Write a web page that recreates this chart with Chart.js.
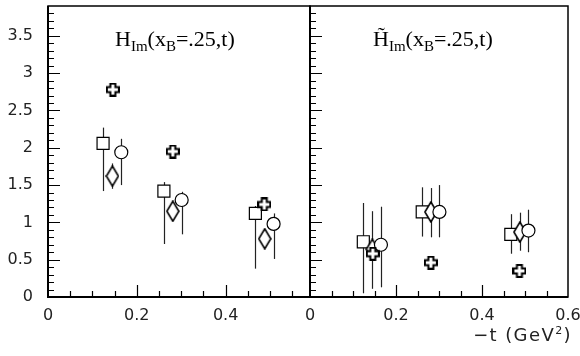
<!DOCTYPE html>
<html>
<head>
<meta charset="utf-8">
<script src="https://cdn.jsdelivr.net/npm/chart.js@4/dist/chart.umd.min.js"></script>
<style>
  body { margin: 0; background: #fff; }
  #wrap { position: relative; width: 580px; height: 356px; }
  #wrap canvas { position: absolute; left: 0; top: 0; }
  .ttl { position: absolute; font-family: "Liberation Serif", serif; font-size: 22px; line-height: 22px; white-space: nowrap; color: #000; }
  .ttl .sb { font-size: 15px; position: relative; top: 5px; }
  #xt { position: absolute; right: 8px; top: 324px; font-family: "DejaVu Sans", sans-serif; font-size: 18px; letter-spacing: 1.4px; white-space: nowrap; color: #222; }
  #xt sup { font-size: 11px; }
</style>
</head>
<body>
<div id="wrap">
  <canvas id="cH" width="580" height="356"></canvas>
  <canvas id="cHt" width="580" height="356"></canvas>
  <div class="ttl" style="left:115px; top:28px;">H<span class="sb">Im</span>(x<span class="sb">B</span>=.25,t)</div>
  <div class="ttl" style="left:373px; top:28px;">H&#x0303;<span class="sb">Im</span>(x<span class="sb">B</span>=.25,t)</div>
  <div id="xt">−t (GeV<sup>2</sup>)</div>
</div>
<script>
// -t positions of each marker type (GeV^2)
const tSquare = [0.124, 0.261, 0.467];
const tDiamond = [0.145, 0.281, 0.488];
const tCircle = [0.165, 0.301, 0.508];
const tCross = [0.146, 0.281, 0.487];

// left panel: H_Im
const hSquare = [2.06, 1.42, 1.12];
const hSquareHi = [2.27, 1.54, 1.22];
const hSquareLo = [1.42, 0.71, 0.38];
const hDiamond = [1.62, 1.15, 0.78];
const hDiamondHi = [1.79, 1.26, 0.90];
const hDiamondLo = [1.45, 1.03, 0.66];
const hCircle = [1.94, 1.30, 0.98];
const hCircleHi = [2.12, 1.41, 1.12];
const hCircleLo = [1.50, 0.84, 0.51];
const hCross = [2.78, 1.95, 1.24];

// right panel: H~_Im
const htSquare = [0.74, 1.14, 0.84];
const htSquareHi = [1.26, 1.47, 1.11];
const htSquareLo = [0.05, 0.81, 0.58];
const htDiamond = [0.64, 1.14, 0.87];
const htDiamondHi = [1.15, 1.46, 1.13];
const htDiamondLo = [0.11, 0.80, 0.62];
const htCircle = [0.70, 1.14, 0.89];
const htCircleHi = [1.21, 1.50, 1.17];
const htCircleLo = [0.13, 0.80, 0.60];
const htCross = [0.58, 0.46, 0.35];

const xTickLabels = ['0', '0.2', '0.4', '0.6'];
const yTickLabels = ['0', '0.5', '1', '1.5', '2', '2.5', '3', '3.5'];

// marker shapes
function makeDiamond() {
  const c = document.createElement('canvas');
  c.width = 14; c.height = 22;
  const g = c.getContext('2d');
  g.beginPath();
  g.moveTo(7, 1); g.lineTo(13, 11); g.lineTo(7, 21); g.lineTo(1, 11); g.closePath();
  g.fillStyle = '#fff'; g.fill();
  g.strokeStyle = '#000'; g.lineWidth = 1.6; g.stroke();
  return c;
}
function makeCross() {
  const c = document.createElement('canvas');
  c.width = 14; c.height = 14;
  const g = c.getContext('2d');
  const a = 2.5, m = 7;
  const pts = [[m-a,1],[m+a,1],[m+a,m-a],[13,m-a],[13,m+a],[m+a,m+a],[m+a,13],[m-a,13],[m-a,m+a],[1,m+a],[1,m-a],[m-a,m-a]];
  g.beginPath();
  pts.forEach((p, i) => i ? g.lineTo(p[0], p[1]) : g.moveTo(p[0], p[1]));
  g.closePath();
  g.fillStyle = '#fff'; g.fill();
  g.strokeStyle = '#000'; g.lineWidth = 2; g.stroke();
  return c;
}
const diamondImg = makeDiamond();
const crossImg = makeCross();

function pts(xs, ys) {
  return xs.map((x, i) => ({ x: x, y: ys[i] }));
}

// vertical error bars, drawn under the markers
const errorBars = {
  id: 'errorBars',
  beforeDatasetsDraw(chart) {
    const { ctx, scales: { x, y } } = chart;
    ctx.save();
    ctx.strokeStyle = '#222';
    ctx.lineWidth = 1.2;
    chart.data.datasets.forEach(ds => {
      if (!ds.errHi) return;
      ds.data.forEach((p, i) => {
        const px = Math.round(x.getPixelForValue(p.x)) + 0.5;
        ctx.beginPath();
        ctx.moveTo(px, y.getPixelForValue(ds.errHi[i]));
        ctx.lineTo(px, y.getPixelForValue(ds.errLo[i]));
        ctx.stroke();
      });
    });
    ctx.restore();
  }
};

// box and inward ticks
const frame = {
  id: 'frame',
  afterDraw(chart) {
    const { ctx, chartArea: a, scales: { x, y } } = chart;
    ctx.save();
    ctx.strokeStyle = '#000';
    ctx.lineWidth = 1.2;
    ctx.beginPath();
    for (let i = 1; i / 10 < y.max; i++) {
      const py = Math.round(y.getPixelForValue(i / 10)) + 0.5;
      const len = i % 5 === 0 ? 12 : 6;
      ctx.moveTo(a.left, py);
      ctx.lineTo(a.left + len, py);
    }
    for (let i = 1; i * 0.05 < x.max - 0.001; i++) {
      const px = Math.round(x.getPixelForValue(i * 0.05)) + 0.5;
      const len = i % 4 === 0 ? 12 : 6;
      ctx.moveTo(px, a.bottom);
      ctx.lineTo(px, a.bottom - len);
    }
    ctx.stroke();
    ctx.lineWidth = 1.5;
    ctx.strokeRect(a.left, a.top, a.right - a.left, a.bottom - a.top);
    ctx.lineWidth = 2;
    ctx.beginPath();
    ctx.moveTo(a.left, a.top);
    ctx.lineTo(a.left, a.bottom);
    ctx.lineTo(a.right, a.bottom);
    ctx.stroke();
    ctx.restore();
  }
};

function makePanel(id, xMax, showY, padding, d) {
  new Chart(document.getElementById(id), {
    type: 'scatter',
    data: {
      datasets: [
        { data: pts(tCross, d.cross), pointStyle: crossImg, pointRadius: 6 },
        { data: pts(tCircle, d.circle), errHi: d.circleHi, errLo: d.circleLo,
          pointStyle: 'circle', pointRadius: 6.5, backgroundColor: '#fff', borderColor: '#000', borderWidth: 1.2 },
        { data: pts(tDiamond, d.diamond), errHi: d.diamondHi, errLo: d.diamondLo, pointStyle: diamondImg, pointRadius: 6 },
        { data: pts(tSquare, d.square), errHi: d.squareHi, errLo: d.squareLo,
          pointStyle: 'rect', pointRadius: 8.5, backgroundColor: '#fff', borderColor: '#000', borderWidth: 1.2 }
      ]
    },
    options: {
      responsive: false,
      animation: false,
      events: [],
      layout: { autoPadding: false, padding: padding },
      plugins: { legend: { display: false }, tooltip: { enabled: false } },
      scales: {
        x: {
          type: 'linear', min: 0, max: xMax,
          grid: { display: false, drawTicks: false },
          border: { display: false },
          afterFit: s => { s.height = 59; s.paddingLeft = 0; s.paddingRight = 0; },
          ticks: {
            stepSize: 0.2, includeBounds: false, padding: 9, color: '#222', maxRotation: 0,
            font: { family: 'DejaVu Sans', size: 16 },
            callback: v => xTickLabels[Math.round(v / 0.2)]
          }
        },
        y: {
          display: showY, min: 0, max: 3.9,
          grid: { display: false, drawTicks: false },
          border: { display: false },
          afterFit: s => { s.width = showY ? 48 : 0; s.paddingTop = 0; s.paddingBottom = 0; },
          ticks: {
            stepSize: 0.5, includeBounds: false, padding: 15, color: '#222',
            font: { family: 'DejaVu Sans', size: 16 },
            callback: v => yTickLabels[Math.round(v / 0.5)]
          }
        }
      }
    },
    plugins: [errorBars, frame]
  });
}

makePanel('cH', 0.59, true, { left: 0, right: 270, top: 6, bottom: 0 }, {
  square: hSquare, squareHi: hSquareHi, squareLo: hSquareLo,
  diamond: hDiamond, diamondHi: hDiamondHi, diamondLo: hDiamondLo,
  circle: hCircle, circleHi: hCircleHi, circleLo: hCircleLo,
  cross: hCross
});
makePanel('cHt', 0.6, false, { left: 310, right: 12, top: 6, bottom: 0 }, {
  square: htSquare, squareHi: htSquareHi, squareLo: htSquareLo,
  diamond: htDiamond, diamondHi: htDiamondHi, diamondLo: htDiamondLo,
  circle: htCircle, circleHi: htCircleHi, circleLo: htCircleLo,
  cross: htCross
});
</script>
</body>
</html>
